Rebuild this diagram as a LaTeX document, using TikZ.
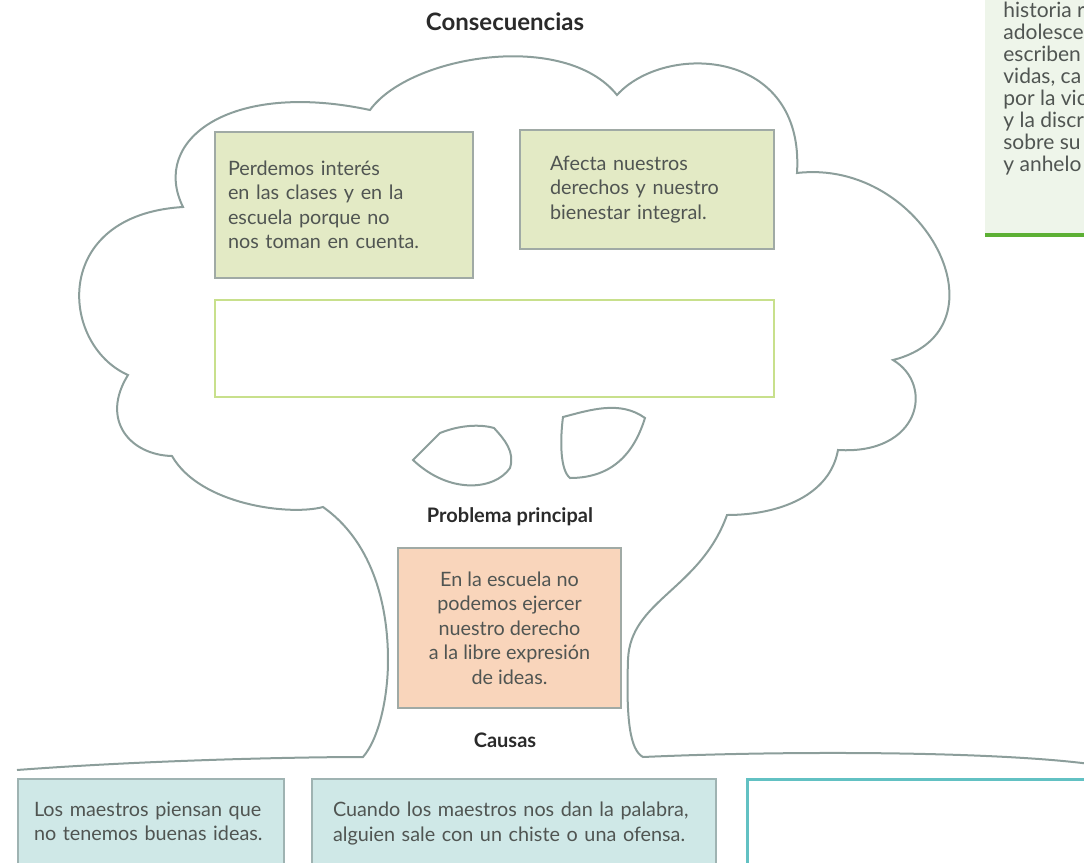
\documentclass[tikz,border=0pt]{standalone}
\usepackage{fontspec}
\setmainfont{Lato}
\usepackage{tikz}
\definecolor{trunkgray}{HTML}{8C9E9B}
\definecolor{edgegray}{HTML}{A0AAA5}
\definecolor{leafgreen}{HTML}{E3EAC5}
\definecolor{limegreen}{HTML}{C8E08C}
\definecolor{peach}{HTML}{F9D5BB}
\definecolor{rootblue}{HTML}{CFE8E7}
\definecolor{rootedge}{HTML}{9FB3B2}
\definecolor{tealedge}{HTML}{62C1C3}
\definecolor{panelgreen}{HTML}{EEF5EA}
\definecolor{accentgreen}{HTML}{5CB034}
\definecolor{bodygray}{HTML}{505552}
\definecolor{titlegray}{HTML}{2A2A2A}
\tikzstyle{treeline}=[draw=trunkgray, line width=1pt]
\tikzstyle{bodytext}=[font=\fontsize{9.9}{12.25}\selectfont, text=bodygray]
\tikzstyle{heading}=[font=\bfseries\fontsize{10}{12}\selectfont, text=titlegray]
\tikzstyle{leafbox}=[bodytext, draw=edgegray, line width=1pt, fill=leafgreen, align=left]
\tikzstyle{probbox}=[bodytext, draw=edgegray, line width=1pt, fill=peach, align=center]
\tikzstyle{rootbox}=[bodytext, draw=rootedge, line width=1pt, fill=rootblue, align=left, anchor=north west, inner ysep=11.5pt]

\begin{document}
\begin{tikzpicture}[x=0.5pt, y=-0.5pt]
        \useasboundingbox (0,0) rectangle (1084,863);
        \clip (0,0) rectangle (1084,863);
        % side panel
        \fill[panelgreen] (985,-5) rectangle (1090,233);
        \draw[accentgreen, line width=2pt] (985,235) -- (1090,235);
        \node[font=\fontsize{10.5}{11}\selectfont, text=bodygray, align=left, anchor=north west, inner sep=0pt] (panel) at (1003,2)
            {historia r\\adolesce\\escriben\\vidas, ca\\por la vic\\y la discr\\sobre su\\y anhelo};
        % tree
        \draw[treeline] (17,770) .. controls (150,760) and (300,757) .. (363,757)
            .. controls (378,740) and (388,700) .. (388,660)
            .. controls (388,600) and (370,540) .. (323,507)
            .. controls (290,516) and (200,505) .. (172,456)
            .. controls (130,455) and (100,420) .. (128,375)
            .. controls (60,345) and (50,215) .. (183,207)
            .. controls (150,140) and (230,80) .. (370,110)
            .. controls (410,55) and (565,30) .. (617,95)
            .. controls (665,42) and (805,48) .. (797,173)
            .. controls (925,158) and (1012,330) .. (893,360)
            .. controls (935,385) and (920,455) .. (838,450)
            .. controls (830,495) and (780,515) .. (727,515)
            .. controls (700,590) and (630,600) .. (628,660)
            .. controls (626,720) and (630,750) .. (643,757)
            .. controls (800,750) and (1000,752) .. (1090,764);
        \draw[treeline] (413,460) -- (440,433) .. controls (460,425) and (480,424) .. (494,428)
            .. controls (505,440) and (515,452) .. (510,468)
            .. controls (495,490) and (450,495) .. (413,460) -- cycle;
        \draw[treeline] (563,417) .. controls (590,410) and (620,400) .. (645,418)
            .. controls (635,450) and (615,478) .. (570,478)
            .. controls (560,470) and (560,440) .. (563,417) -- cycle;
        % consequences
        \node[heading, font=\bfseries\fontsize{12}{14}\selectfont] (conseq) at (505,22) {Consecuencias};
        \node[leafbox, text width=116pt, inner xsep=6.5pt, minimum height=73pt] (interes) at (344,205)
            {Perdemos interés\\en las clases y en la\\escuela porque no\\nos toman en cuenta.};
        \node[leafbox, text width=97pt, inner xsep=15pt, minimum height=59.5pt] (derechos) at (647,189.5)
            {Afecta nuestros\\derechos y nuestro\\bienestar integral.};
        \node[draw=limegreen, line width=1pt, minimum width=279.5pt, minimum height=48.5pt, inner sep=0pt] (vacio) at (494.5,348.5) {};
        % main problem
        \node[heading] (problabel) at (510,517) {Problema principal};
        \node[probbox, minimum width=111.5pt, minimum height=80pt] (problema) at (509.5,628)
            {En la escuela no\\podemos ejercer\\nuestro derecho\\a la libre expresión\\de ideas.};
        % causes
        \node[heading] (causas) at (505,740) {Causas};
        \node[rootbox, text width=117pt, inner xsep=8pt] (maestros) at (17,778)
            {Los maestros piensan que\\no tenemos buenas ideas.\rule[-20pt]{0pt}{0pt}};
        \node[rootbox, text width=181pt, inner xsep=10.5pt] (palabra) at (311,778)
            {Cuando los maestros nos dan la palabra,\\alguien sale con un chiste o una ofensa.\rule[-20pt]{0pt}{0pt}};
        \node[draw=tealedge, line width=1.3pt, fill=white, anchor=north west, minimum width=200pt, minimum height=60pt] (otra) at (746,778) {};
    \end{tikzpicture}
\end{document}
